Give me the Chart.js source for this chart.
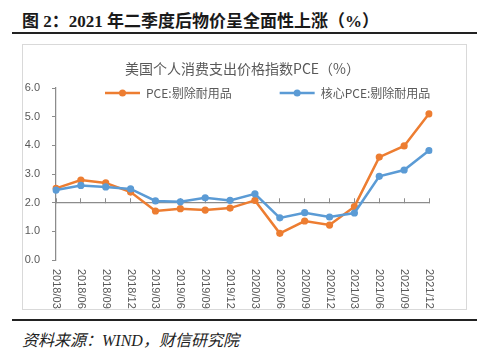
<!DOCTYPE html>
<html>
<head>
<meta charset="utf-8">
<script src="https://cdn.jsdelivr.net/npm/chart.js@4.4.1/dist/chart.umd.min.js"></script>
<style>
  html, body { margin: 0; padding: 0; background: #fff; }
  #page { position: relative; width: 500px; height: 360px; overflow: hidden; background: #fff; }
  #title { position: absolute; left: 22px; top: 7px; font-family: 'Liberation Serif', 'Noto Sans CJK SC', serif; font-weight: bold; font-size: 17px; color: #1a1a1a; white-space: nowrap; }
  #rule1 { position: absolute; left: 12px; top: 32px; width: 465px; height: 2px; background: #222; }
  #box { position: absolute; left: 22px; top: 44px; width: 443px; height: 264px; border: 1px solid #d9d9d9; }
  #rule2 { position: absolute; left: 12px; top: 319px; width: 465px; height: 2px; background: #222; }
  #source { position: absolute; left: 22px; top: 327px; font-family: 'Liberation Serif', 'Noto Sans CJK SC', serif; font-style: italic; font-size: 16px; color: #222; white-space: nowrap; }
  canvas { position: absolute; left: 0; top: 0; }
</style>
</head>
<body>
<div id="page">
  <div id="title">图 2：2021 年二季度后物价呈全面性上涨（%）</div>
  <div id="rule1"></div>
  <div id="box"><canvas id="c" width="443" height="264"></canvas></div>
  <div id="rule2"></div>
  <div id="source">资料来源：WIND，财信研究院</div>
</div>
<script>
const categories = ['2018/03','2018/06','2018/09','2018/12','2019/03','2019/06','2019/09','2019/12','2020/03','2020/06','2020/09','2020/12','2021/03','2021/06','2021/09','2021/12'];
const pceExDurables = [2.50, 2.79, 2.69, 2.37, 1.71, 1.79, 1.74, 1.81, 2.08, 0.93, 1.36, 1.22, 1.86, 3.59, 3.98, 5.10];
const corePceExDurables = [2.44, 2.60, 2.55, 2.48, 2.06, 2.03, 2.17, 2.08, 2.31, 1.47, 1.65, 1.50, 1.64, 2.92, 3.14, 3.82];
const seriesNames = ['PCE:剔除耐用品', '核心PCE:剔除耐用品'];
const seriesColors = ['#ED7D31', '#5B9BD5'];
const yTicks = [0, 1, 2, 3, 4, 5, 6];
const chartTitle = '美国个人消费支出价格指数PCE（%）';

const FONT = "'Liberation Sans', 'Noto Sans CJK SC', sans-serif";
const CJK = "'Noto Sans CJK SC', 'Liberation Sans', sans-serif";
const GRAY_TEXT = '#595959';
const AXIS = '#8c8c8c';

const xLabelPlugin = {
  id: 'xLabels',
  afterDraw(chart) {
    const ctx = chart.ctx, xs = chart.scales.x, ys = chart.scales.y;
    const top = ys.getPixelForValue(0) + 9;
    ctx.save();
    ctx.font = '11px ' + FONT;
    ctx.fillStyle = GRAY_TEXT;
    ctx.textAlign = 'left';
    ctx.textBaseline = 'middle';
    categories.forEach((lab, i) => {
      const x = xs.getPixelForValue(i);
      ctx.save();
      ctx.translate(x, top);
      ctx.rotate(Math.PI / 2);
      ctx.fillText(lab, 0, 0);
      ctx.restore();
    });
    ctx.restore();
  }
};

const titleLegendPlugin = {
  id: 'titleLegend',
  afterDraw(chart) {
    const ctx = chart.ctx, area = chart.chartArea;
    ctx.save();
    // chart title, centred over the plot area
    ctx.font = '14px ' + CJK;
    ctx.fillStyle = GRAY_TEXT;
    ctx.textAlign = 'center';
    ctx.textBaseline = 'middle';
    ctx.fillText(chartTitle, (area.left + area.right) / 2, area.top - 19);
    // legend
    ctx.font = '12px ' + CJK;
    const y = area.top + 5;
    let x = area.left + 49;
    chart.data.datasets.forEach((ds) => {
      const lineLen = 35;
      ctx.strokeStyle = ds.borderColor;
      ctx.lineWidth = 2.5;
      ctx.beginPath();
      ctx.moveTo(x, y);
      ctx.lineTo(x + lineLen, y);
      ctx.stroke();
      ctx.fillStyle = ds.borderColor;
      ctx.beginPath();
      ctx.arc(x + lineLen / 2, y, 3.5, 0, Math.PI * 2);
      ctx.fill();
      ctx.fillStyle = GRAY_TEXT;
      ctx.textAlign = 'left';
      ctx.fillText(ds.label, x + lineLen + 6, y);
      x += lineLen + 6 + ctx.measureText(ds.label).width + 48;
    });
    ctx.restore();
  }
};

new Chart(document.getElementById('c'), {
  type: 'line',
  data: {
    labels: categories,
    datasets: [
      { label: seriesNames[0], data: pceExDurables, borderColor: seriesColors[0], backgroundColor: seriesColors[0], order: 1 },
      { label: seriesNames[1], data: corePceExDurables, borderColor: seriesColors[1], backgroundColor: seriesColors[1], order: 0 }
    ]
  },
  options: {
    responsive: false,
    animation: false,
    devicePixelRatio: 1,
    layout: { padding: { left: 0, right: 37, top: 43, bottom: 49 } },
    elements: {
      line: { borderWidth: 2.5, tension: 0 },
      point: { radius: 3.6, borderWidth: 0, hoverRadius: 3.6 }
    },
    scales: {
      x: {
        type: 'category',
        offset: false,
        position: { y: 2 },
        ticks: { display: false },
        grid: { display: true, drawOnChartArea: false, drawTicks: true, tickLength: -5, color: AXIS, lineWidth: 1 },
        border: { display: true, color: AXIS, width: 1.25 }
      },
      y: {
        min: 0, max: 6,
        afterFit(scale) { scale.width = 33; },
        afterBuildTicks(scale) { scale.ticks = yTicks.map(v => ({ value: v })); },
        ticks: {
          padding: 12,
          color: GRAY_TEXT,
          font: { size: 11, family: FONT },
          callback: v => Number(v).toFixed(1)
        },
        grid: { display: true, drawOnChartArea: false, drawTicks: true, tickLength: 4, color: AXIS, lineWidth: 1 },
        border: { display: true, color: AXIS, width: 1.25 }
      }
    },
    plugins: {
      legend: { display: false },
      tooltip: { enabled: false },
      title: { display: false }
    }
  },
  plugins: [xLabelPlugin, titleLegendPlugin]
});
</script>
</body>
</html>
